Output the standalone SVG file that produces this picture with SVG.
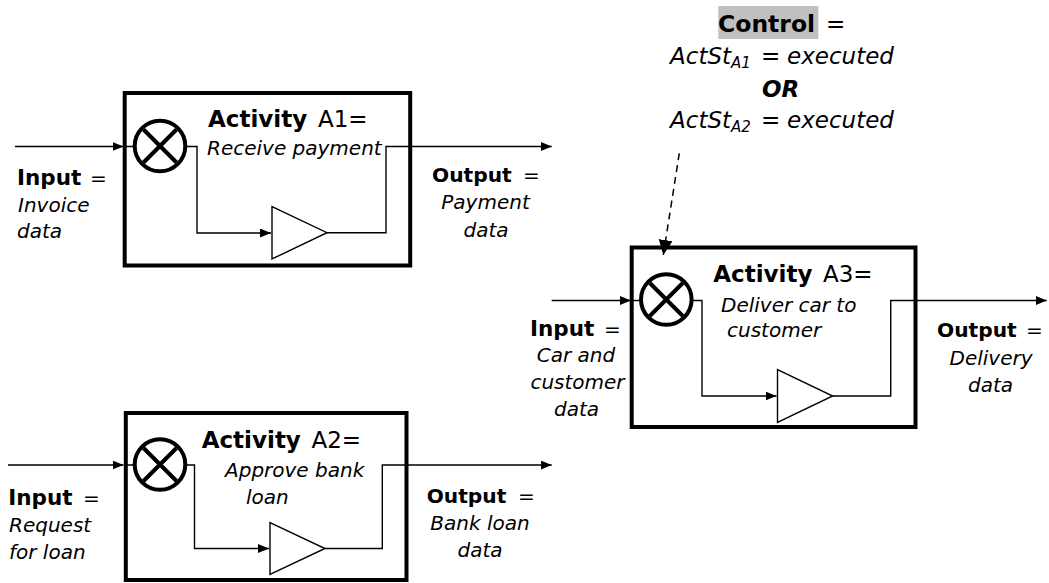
<svg xmlns="http://www.w3.org/2000/svg" width="1049" height="583" viewBox="0 0 1049 583">
<style>
text{font-family:"DejaVu Sans",Verdana,sans-serif;fill:#000}
.t{font-size:23px}
.b{font-weight:bold}
.i{font-style:italic;font-size:20px}
.l{font-size:20px}
.in{font-weight:bold;font-size:21.5px}
.out{font-weight:bold;font-size:20.2px}
.box{fill:#fff;stroke:#000;stroke-width:4}
.ring{fill:#fff;stroke:#000;stroke-width:4}
.x{stroke:#000;stroke-width:4}
.w{fill:none;stroke:#000;stroke-width:1.4}
.tri{fill:#fff;stroke:#000;stroke-width:1.4}
.c{fill:none;stroke:#000;stroke-width:1.5}
.d{fill:none;stroke:#000;stroke-width:1.5;stroke-dasharray:7 5}
</style>
<defs>
<marker id="ah" markerUnits="userSpaceOnUse" markerWidth="12" markerHeight="10" refX="11" refY="4.5" orient="auto"><path d="M0,0 L11,4.5 L0,9 z" fill="#000"/></marker>
<marker id="ahd" markerUnits="userSpaceOnUse" markerWidth="16" markerHeight="16" refX="15" refY="7" orient="auto"><path d="M0,0 L15,7 L0,14 z" fill="#000"/></marker>
</defs>
<rect width="1049" height="583" fill="#fff"/>

<g id="a1">
<rect class="box" x="124.7" y="93" width="285.5" height="172.5"/>
<circle class="ring" cx="160" cy="146" r="25.3"/>
<line class="x" x1="143.5" y1="129.5" x2="176.5" y2="162.5"/>
<line class="x" x1="143.5" y1="162.5" x2="176.5" y2="129.5"/>
<path class="w" d="M185.3,146.5 H197 V233 H271" marker-end="url(#ah)"/>
<polygon class="tri" points="272,206.5 272,259 327,232.7"/>
<path class="w" d="M327,232.7 H386 V146.5 H410"/>
<text class="t" y="127"><tspan class="b" x="208">Activity</tspan><tspan x="318">A1=</tspan></text>
<text class="i" x="207" y="155">Receive payment</text>
</g>

<g id="a2">
<rect class="box" x="125.8" y="413" width="280.7" height="167"/>
<circle class="ring" cx="160" cy="464.5" r="25.3"/>
<line class="x" x1="143.5" y1="448" x2="176.5" y2="481"/>
<line class="x" x1="143.5" y1="481" x2="176.5" y2="448"/>
<path class="w" d="M185.3,465 H194.5 V548.5 H269" marker-end="url(#ah)"/>
<polygon class="tri" points="270,522.7 270,574.3 325,548.5"/>
<path class="w" d="M325,548.5 H382.3 V465 H406"/>
<text class="t" y="448.3"><tspan class="b" x="201.7">Activity</tspan><tspan x="311.5">A2=</tspan></text>
<text class="i" x="225" y="476.7">Approve bank</text>
<text class="i" x="246" y="504">loan</text>
</g>

<g id="a3">
<rect class="box" x="631.7" y="247.5" width="283.8" height="179.5"/>
<circle class="ring" cx="666.3" cy="299.5" r="25.3"/>
<line class="x" x1="649.8" y1="283" x2="682.8" y2="316"/>
<line class="x" x1="649.8" y1="316" x2="682.8" y2="283"/>
<path class="w" d="M691.6,300.5 H702 V396 H776.5" marker-end="url(#ah)"/>
<polygon class="tri" points="777.5,369.7 777.5,422.3 832.7,396"/>
<path class="w" d="M832.7,396 H890.7 V300.5 H915"/>
<text class="t" y="282.3"><tspan class="b" x="713.3">Activity</tspan><tspan x="823">A3=</tspan></text>
<text class="i" x="721" y="311.7">Deliver car to</text>
<text class="i" x="727" y="337">customer</text>
</g>

<g id="input-a1">
<text class="l" y="185"><tspan class="in" x="17">Input</tspan><tspan x="90">=</tspan></text>
<text class="i" x="18" y="212">Invoice</text>
<text class="i" x="17" y="238">data</text>
</g>
<g id="output-a1">
<text class="l" y="181.7"><tspan class="out" x="432">Output</tspan><tspan x="523">=</tspan></text>
<text class="i" x="485.5" y="209" text-anchor="middle">Payment</text>
<text class="i" x="486" y="236.7" text-anchor="middle">data</text>
</g>

<g id="input-a2">
<text class="l" y="505"><tspan class="in" x="8.3">Input</tspan><tspan x="83">=</tspan></text>
<text class="i" x="9" y="531.7">Request</text>
<text class="i" x="9" y="559">for loan</text>
</g>
<g id="output-a2">
<text class="l" y="502.7"><tspan class="out" x="426.7">Output</tspan><tspan x="518">=</tspan></text>
<text class="i" x="480" y="530" text-anchor="middle">Bank loan</text>
<text class="i" x="480" y="556.7" text-anchor="middle">data</text>
</g>

<g id="input-a3">
<text class="l" y="336"><tspan class="in" x="530">Input</tspan><tspan x="604">=</tspan></text>
<text class="i" x="576" y="361.7" text-anchor="middle">Car and</text>
<text class="i" x="577.5" y="389.3" text-anchor="middle">customer</text>
<text class="i" x="576.5" y="416" text-anchor="middle">data</text>
</g>
<g id="output-a3">
<text class="l" y="337.3"><tspan class="out" x="937">Output</tspan><tspan x="1026">=</tspan></text>
<text class="i" x="991" y="365" text-anchor="middle">Delivery</text>
<text class="i" x="990.6" y="391.7" text-anchor="middle">data</text>
</g>

<g id="control">
<rect x="718.3" y="6" width="100" height="33" fill="#c0c0c0"/>
<text class="t" y="31.7"><tspan class="b" x="718" font-size="23.5px">Control</tspan><tspan x="826">=</tspan></text>
<text class="t" font-style="italic" y="64"><tspan x="670">ActSt</tspan><tspan x="731" y="68" font-size="15px">A1</tspan><tspan x="761" y="64">=</tspan><tspan x="787" y="64">executed</tspan></text>
<text class="t b" font-style="italic" x="762" y="96.7" font-size="23.5px">OR</text>
<text class="t" font-style="italic" y="128.3"><tspan x="670">ActSt</tspan><tspan x="731" y="132.3" font-size="15px">A2</tspan><tspan x="761" y="128.3">=</tspan><tspan x="787" y="128.3">executed</tspan></text>
</g>

<g id="connectors">
<path class="c" d="M15,146.5 H123.5" marker-end="url(#ah)"/>
<path class="c" d="M124,146.5 H135"/>
<path class="c" d="M410,146.5 H551.7" marker-end="url(#ah)"/>
<path class="c" d="M8,465 H123.5" marker-end="url(#ah)"/>
<path class="c" d="M124,465 H135"/>
<path class="c" d="M406,465 H551.7" marker-end="url(#ah)"/>
<path class="c" d="M551.7,300.5 H631" marker-end="url(#ah)"/>
<path class="c" d="M631,300.5 H641.5"/>
<path class="c" d="M915,300.5 H1046.7" marker-end="url(#ah)"/>
<path class="d" d="M679.3,153.3 L663.3,255" marker-end="url(#ahd)"/>
</g>
</svg>
